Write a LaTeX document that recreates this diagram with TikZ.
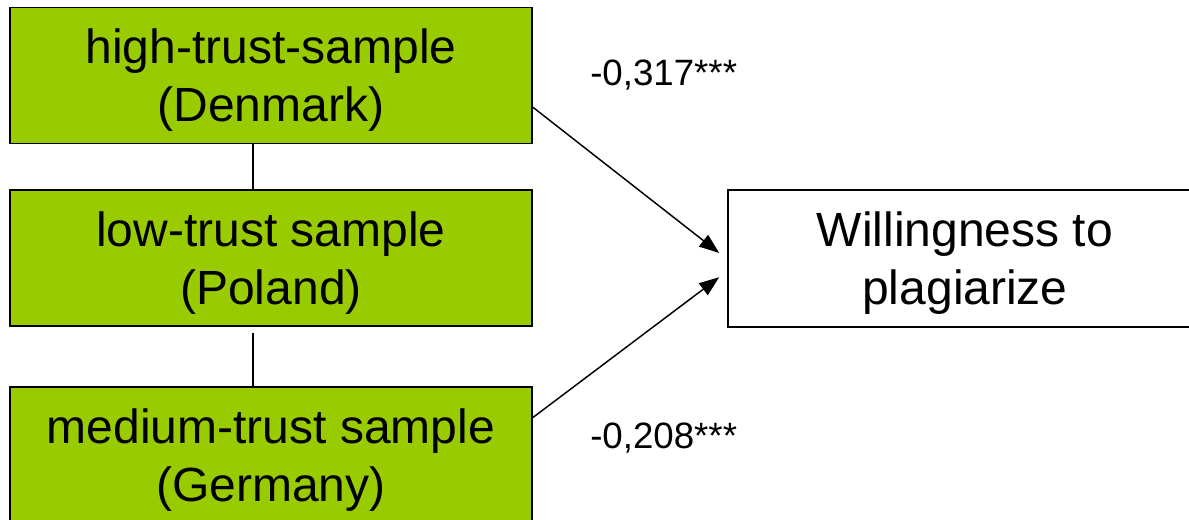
\documentclass[tikz,border=0pt]{standalone}
\usepackage{fontspec}
\setmainfont{Liberation Sans}
\usetikzlibrary{arrows.meta,calc}
\definecolor{boxgreen}{HTML}{99CC00}
\begin{document}
\begin{tikzpicture}[x=0.75pt,y=-0.75pt,
  boxtext/.style={inner sep=0pt,align=center,yshift=-3.5pt,
    font=\fontsize{36}{43.5}\selectfont},
  sample/.style={draw=black,line width=1.2pt,fill=boxgreen,minimum width=522*0.75pt,
    minimum height=136*0.75pt,inner sep=0pt},
  outcome/.style={draw=black,line width=1.2pt,fill=white,minimum width=474*0.75pt,
    minimum height=137*0.75pt,inner sep=0pt},
  coef/.style={anchor=base west,inner sep=0pt,font=\fontsize{27.5}{33}\selectfont},
  link/.style={line width=1.1pt},
  effect/.style={line width=1.1pt,-{Triangle[length=15pt,width=11pt]}}]
\useasboundingbox (0,0) rectangle (1189,519);
\clip (0,0) rectangle (1189,519);
\fill[white] (0,0) rectangle (1189,519);

% sample boxes
\node[sample,label={[boxtext]center:high-trust-sample\\(Denmark)}] (b1) at (271,75.5) {};
\node[sample,label={[boxtext]center:low-trust sample\\(Poland)}] (b2) at (271,258) {};
\node[sample,label={[boxtext]center:medium-trust sample\\(Germany)}] (b3) at (271,455) {};

% outcome box
\node[outcome,label={[boxtext]center:Willingness to\\plagiarize}] (w) at (965,258.5) {};

% links between the samples
\draw[link] (b1.south -| 253,0) -- (b2.north -| 253,0);
\draw[link] (b2.south -| 253,0) ++(0,6) -- (b3.north -| 253,0);

% effects on the outcome
\coordinate (s1) at ($(b1.north east)!0.73!(b1.south east)$);
\coordinate (s2) at ($(b3.north east)!0.228!(b3.south east)$);
\coordinate (t1) at ($(w.north west)!0.46!(w.south west)+(-8,0)$);
\coordinate (t2) at ($(w.north west)!0.635!(w.south west)+(-8,0)$);
\draw[effect] (s1) -- (t1);
\draw[effect] (s2) -- (t2);

% coefficients
\node[coef] (c1) at (590,85) {-0,317***};
\node[coef] (c2) at (590,448) {-0,208***};
\end{tikzpicture}
\end{document}
